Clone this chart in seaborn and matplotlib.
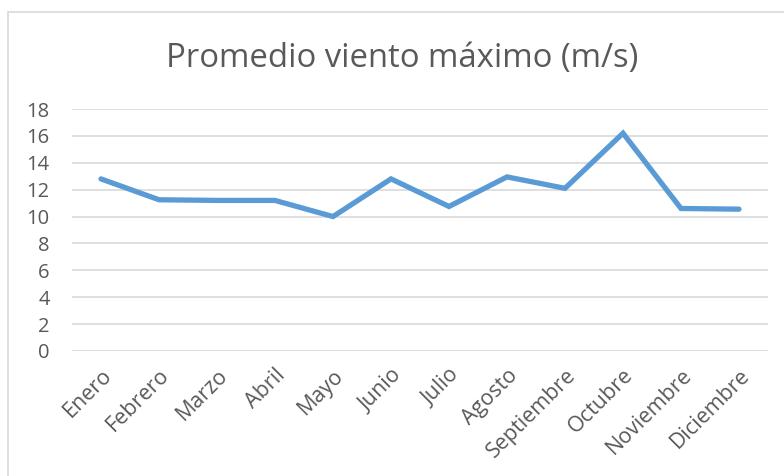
import matplotlib
matplotlib.use("Agg")
import matplotlib.pyplot as plt
import seaborn as sns
import pandas as pd
from matplotlib.patches import Rectangle

meses = ["Enero", "Febrero", "Marzo", "Abril", "Mayo", "Junio", "Julio",
         "Agosto", "Septiembre", "Octubre", "Noviembre", "Diciembre"]
viento_max = [12.8, 11.25, 11.2, 11.2, 10.0, 12.8, 10.75, 12.95, 12.1, 16.2, 10.6, 10.55]
y_ticks = [0, 2, 4, 6, 8, 10, 12, 14, 16, 18]
titulo = "Promedio viento máximo (m/s)"

df = pd.DataFrame({"mes": meses, "viento": viento_max})

sns.set_theme(style="white")
plt.rcParams["font.family"] = ["Open Sans", "DejaVu Sans"]

W, H = 784, 476
fig = plt.figure(figsize=(W / 100, H / 100), dpi=100)
ax = fig.add_axes([72 / W, 1 - 351 / H, (768 - 72) / W, (351 - 109) / H])

sns.lineplot(data=df, x="mes", y="viento", ax=ax, color="#5B9BD5",
             linewidth=3.8, sort=False, solid_capstyle="round",
             solid_joinstyle="miter")

ax.set_xlim(-0.5, len(meses) - 0.5)
ax.set_ylim(0, 18)
ax.set_yticks(y_ticks)
ax.yaxis.grid(True, color="#D9D9D9", linewidth=1.2)
ax.set_axisbelow(True)
for s in ax.spines.values():
    s.set_visible(False)

ax.set_xlabel("")
ax.set_ylabel("")
ax.tick_params(axis="y", length=0, pad=16, labelsize=14.5, labelcolor="#595959")
ax.tick_params(axis="x", length=0, pad=10, labelsize=15.5, labelcolor="#595959")
ax.set_xticks(range(len(meses)))
ax.set_xticklabels(meses, rotation=45, ha="right", va="top", rotation_mode="anchor")

fig.text((168 + 637) / 2 / W, 1 - 67 / H, titulo, ha="center", va="baseline",
         fontsize=23.7, color="#595959")

# chart frame
fig.patches.append(Rectangle((8 / W, -0.1), 1.2, 1 - 11.5 / H + 0.1,
                             transform=fig.transFigure, fill=False,
                             edgecolor="#D9D9D9", linewidth=1.2))

fig.savefig("out.png", dpi=100, facecolor="white")
